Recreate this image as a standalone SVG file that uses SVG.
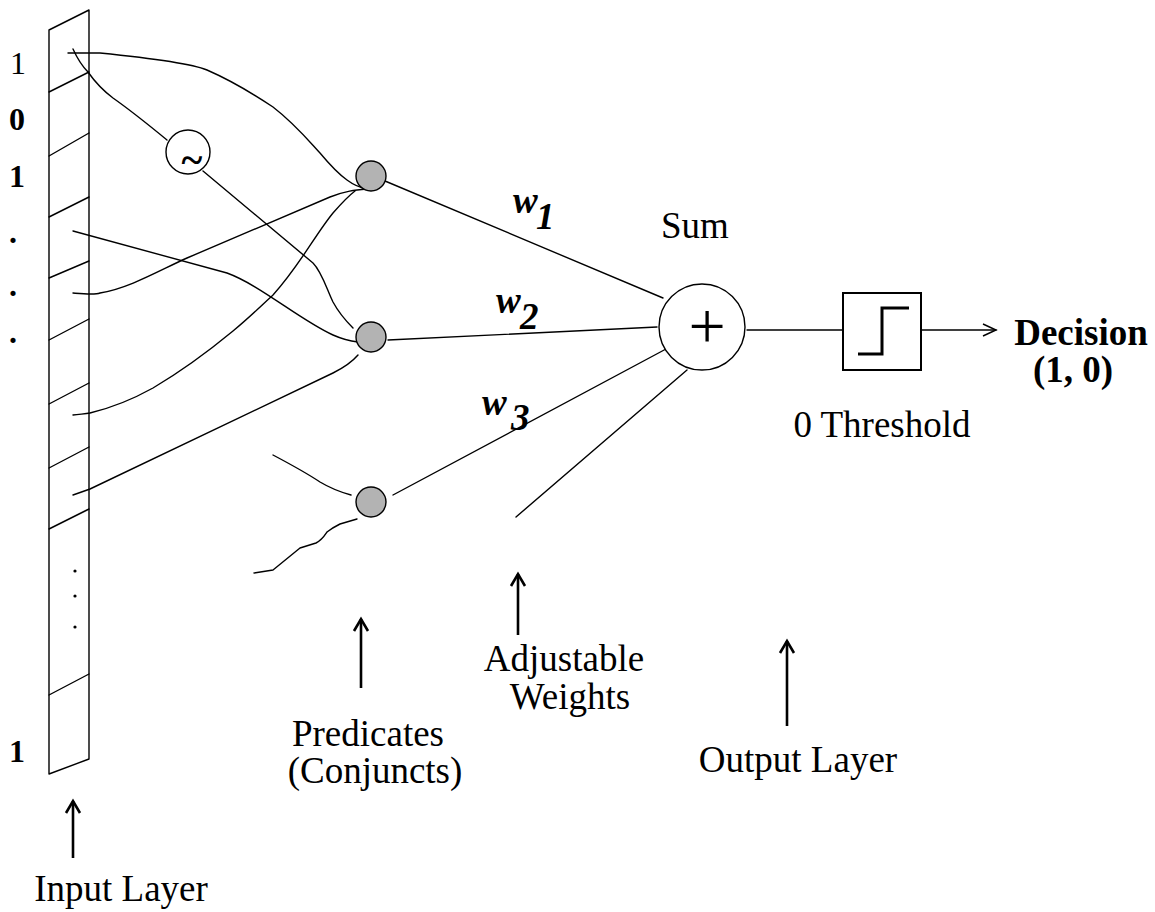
<svg xmlns="http://www.w3.org/2000/svg" width="1155" height="912" viewBox="0 0 1155 912">
<defs>
<style>
.ln{fill:none;stroke:#000;stroke-width:1.4;stroke-linecap:round;stroke-linejoin:round}
.arr{fill:none;stroke:#000;stroke-width:2.6}
.t{font-family:"Liberation Serif","Times New Roman",serif;font-size:37px;fill:#000}
.b{font-weight:bold}
.w{font-family:"Liberation Serif","Times New Roman",serif;font-size:37px;font-style:italic;font-weight:bold;fill:#000}
.d{font-family:"Liberation Serif","Times New Roman",serif;font-size:32px;fill:#000;text-anchor:middle}
.pred{fill:#b3b3b3;stroke:#000;stroke-width:1.4}
</style>
<marker id="up" markerUnits="userSpaceOnUse" markerWidth="20" markerHeight="20" refX="13" refY="10" orient="auto">
<path d="M1,3 L13,10 L1,17" fill="none" stroke="#000" stroke-width="2.6"/>
</marker>
<marker id="rt" markerUnits="userSpaceOnUse" markerWidth="20" markerHeight="20" refX="14" refY="10" orient="auto">
<path d="M1,4 L14,10 L1,16" fill="none" stroke="#000" stroke-width="1.5"/>
</marker>
</defs>
<rect width="1155" height="912" fill="#fff"/>

<g id="input-layer">
<path class="ln" d="M49,30 L89,10 L89,759 L49,774 Z"/>
<path class="ln" d="M49,92 L89,72 M49,156 L89,133 M49,217 L89,197 M49,278 L89,261 M49,340 L89,319 M49,404 L89,383 M49,468 L89,447 M49,529 L89,509 M49,695 L89,674"/>
<circle cx="75" cy="571" r="1.6"/>
<circle cx="75" cy="596" r="1.6"/>
<circle cx="75" cy="627" r="1.6"/>
<text class="d" x="18" y="74">1</text>
<text class="d b" x="17" y="130">0</text>
<text class="d b" x="17" y="187">1</text>
<text class="d b" x="13" y="243">.</text>
<text class="d b" x="13" y="296">.</text>
<text class="d b" x="13" y="343">.</text>
<text class="d b" x="17" y="762">1</text>
</g>

<g id="connectors">
<path class="ln" d="M68,53 L100,53 C150,58 190,63 207,70 C230,80 255,95 273,107 C295,124 308,140 320,153 C330,165 340,175 347,180 C355,186 362,188 367,189"/>
<path class="ln" d="M73,49 C78,60 82,66 88,72 C95,82 105,92 113,98 C130,110 150,126 167,140"/>
<path class="ln" d="M203,171 L313,263 C322,272 327,290 333,302 C340,315 347,322 353,328"/>
<path class="ln" d="M73,231 L227,273 C260,285 300,320 333,335 C342,339 350,341 358,342"/>
<path class="ln" d="M73,293 C85,294 95,295 100,293 C130,288 160,270 187,258 L330,197 C345,191 355,190 367,189"/>
<path class="ln" d="M73,415 C80,414 85,414 90,413 C115,407 135,398 153,388 C180,372 210,350 233,331 C250,317 262,305 273,295 C300,265 315,235 333,213 C340,205 347,197 355,191"/>
<path class="ln" d="M73,495 L90,489 L333,373 C345,367 352,362 358,355"/>
<path class="ln" d="M273,455 C290,464 305,472 320,482 C330,488 340,492 351,495"/>
<path class="ln" d="M254,573 L273,570 L300,548 L316,543 C322,540 325,535 327,532 C332,528 336,526 340,524 L357,519"/>
<path class="ln" d="M385,181 L663,298"/>
<path class="ln" d="M388,340 L657,327"/>
<path class="ln" d="M393,495 L666,349"/>
<path class="ln" d="M687,370 L516,517"/>
<path class="ln" d="M747,330 L843,330"/>
<path class="ln" d="M921,330 L996,330" marker-end="url(#rt)"/>
<path class="arr" d="M73,858 L73,801" marker-end="url(#up)"/>
<path class="arr" d="M361,688 L361,619" marker-end="url(#up)"/>
<path class="arr" d="M518,635 L518,574" marker-end="url(#up)"/>
<path class="arr" d="M787,726 L787,641" marker-end="url(#up)"/>
</g>

<g id="not-node">
<circle cx="188" cy="152" r="22" fill="#fff" stroke="#000" stroke-width="1.4"/>
<text class="t b" x="192" y="173" text-anchor="middle" style="font-size:40px">~</text>
</g>

<g id="predicate-1"><circle class="pred" cx="371" cy="176" r="15"/></g>
<g id="predicate-2"><circle class="pred" cx="371" cy="337" r="15"/></g>
<g id="predicate-3"><circle class="pred" cx="371" cy="502" r="15"/></g>

<g id="weights">
<text class="w" x="513" y="213">w</text><text class="w" x="536" y="229">1</text>
<text class="w" x="496" y="313">w</text><text class="w" x="520" y="329">2</text>
<text class="w" x="482" y="415">w</text><text class="w" x="511" y="430">3</text>
</g>

<g id="sum">
<circle cx="702" cy="327" r="43" fill="#fff" stroke="#000" stroke-width="1.4"/>
<text class="t" x="707" y="348" text-anchor="middle" style="font-size:66px">+</text>
<text class="t" x="661" y="238">Sum</text>
</g>

<g id="threshold">
<rect x="843" y="293" width="78" height="77" fill="#fff" stroke="#000" stroke-width="2"/>
<path d="M858,354 L882,354 L882,308 L909,308" fill="none" stroke="#000" stroke-width="3"/>
<text class="t" x="882" y="437" text-anchor="middle">0 Threshold</text>
</g>

<g id="decision">
<text class="t b" x="1081" y="345" text-anchor="middle">Decision</text>
<text class="t b" x="1073" y="382" text-anchor="middle">(1, 0)</text>
</g>

<g id="labels">
<text class="t" x="121" y="901" text-anchor="middle">Input Layer</text>
<text class="t" x="368" y="746" text-anchor="middle">Predicates</text>
<text class="t" x="375" y="783" text-anchor="middle">(Conjuncts)</text>
<text class="t" x="564" y="671" text-anchor="middle">Adjustable</text>
<text class="t" x="570" y="709" text-anchor="middle">Weights</text>
<text class="t" x="798" y="772" text-anchor="middle">Output Layer</text>
</g>
</svg>
